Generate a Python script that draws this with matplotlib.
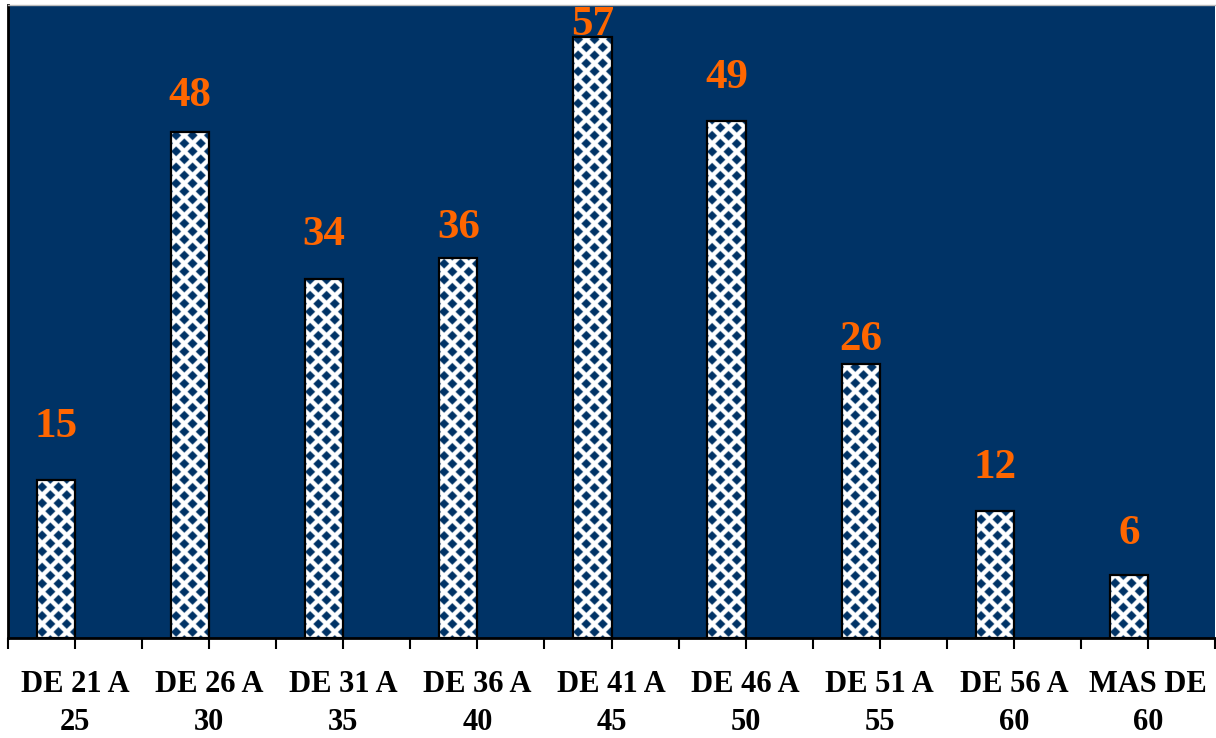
import numpy as np
import matplotlib.pyplot as plt
from matplotlib.patches import Rectangle

# --- Datos ---
categorias = ["DE 21 A\n25", "DE 26 A\n30", "DE 31 A\n35", "DE 36 A\n40", "DE 41 A\n45",
              "DE 46 A\n50", "DE 51 A\n55", "DE 56 A\n60", "MAS DE\n60"]
valores = [15, 48, 34, 36, 57, 49, 26, 12, 6]

# distancia (px) entre el tope de la barra y el centro de la etiqueta, como en el original
desfase_etiquetas = [53, 36, 44, 30, 12, 43, 24, 43, 41]

# --- Estilo ---
azul = "#003366"
naranja = "#FF6600"
W, H, DPI = 1216, 738, 100
ymax = 60
bar_w = 0.285

plt.rcParams['font.family'] = ['Liberation Serif', 'DejaVu Serif']

fig = plt.figure(figsize=(W / DPI, H / DPI), dpi=DPI)
left, right, top, bottom = 8, 1215, 5, 638
ax = fig.add_axes([left / W, (H - bottom) / H, (right - left) / W, (bottom - top) / H])
ax.set_facecolor(azul)

n = len(categorias)
x = np.arange(n)
px_x = (right - left) / n          # pixeles por unidad en x
px_y = (bottom - top) / ymax       # pixeles por unidad en y


def patron(w_px, h_px, p=16.0, r=4.9):
    """Rombos azules sobre fondo blanco, en coordenadas de pixel."""
    s = 3
    xx = (np.arange(int(w_px * s)) + 0.5) / s + 3
    yy = (np.arange(int(h_px * s)) + 0.5) / s + 2
    X, Y = np.meshgrid(xx, yy)
    dA = np.abs(((X + p / 2) % p) - p / 2) + np.abs(((Y + p / 2) % p) - p / 2)
    dB = np.abs((X % p) - p / 2) + np.abs((Y % p) - p / 2)
    d = np.minimum(dA, dB)
    a = np.clip((r - d) * 1.5 + 0.5, 0, 1)[..., None]
    col = np.array([0x00, 0x33, 0x66]) / 255
    return (1 - a) * np.ones(3) + a * col


for xi, v, off in zip(x, valores, desfase_etiquetas):
    x0, x1 = xi - bar_w, xi
    img = patron(bar_w * px_x, v * px_y)
    ax.imshow(img, extent=(x0, x1, 0, v), origin='lower', aspect='auto',
              interpolation='bilinear', zorder=2)
    ax.add_patch(Rectangle((x0, 0), bar_w, v, facecolor='none', edgecolor='black',
                           linewidth=1.6, zorder=3))

    # etiqueta de valor
    ax.text(xi - bar_w / 2, v + off / px_y, str(v), ha='center', va='center',
            color=naranja, fontsize=31, fontweight='bold', zorder=4, clip_on=False)

ax.set_xlim(-0.5, n - 0.5)
ax.set_ylim(0, ymax)

ax.set_xticks(x)
ax.set_xticklabels(categorias, fontsize=22, fontweight='bold', linespacing=1.4)
ax.set_xticks(np.arange(-0.5, n, 1.0), minor=True)
ax.tick_params(axis='x', which='both', length=8, width=1.5, color='black', direction='out')
ax.tick_params(axis='x', which='major', pad=15)
ax.set_yticks([])

ax.spines['left'].set_color('black')
ax.spines['left'].set_linewidth(2)
ax.spines['bottom'].set_color('black')
ax.spines['bottom'].set_linewidth(2)
ax.spines['top'].set_color('#bbbbbb')
ax.spines['top'].set_linewidth(1)
ax.spines['right'].set_visible(False)

fig.savefig("out.png", dpi=DPI, facecolor='white')
